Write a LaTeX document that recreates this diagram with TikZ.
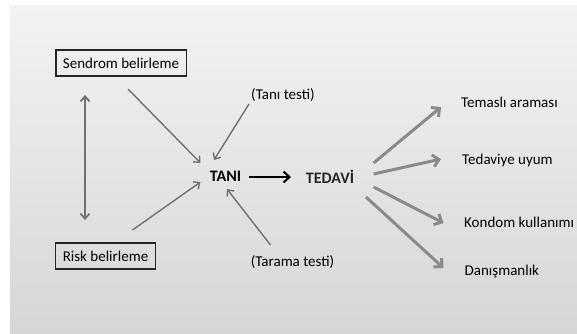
\documentclass[tikz,border=0pt]{standalone}
\usepackage{fontspec}
\setmainfont{Carlito}
\usetikzlibrary{arrows.meta}

\definecolor{bgtop}{HTML}{F3F3F3}
\definecolor{bgbottom}{HTML}{D6D6D6}
\definecolor{arrowgray}{HTML}{707070}
\definecolor{lightarrow}{HTML}{8A8A8A}

\tikzset{
    labelbox/.style={draw=black!85, line width=1.2pt, inner xsep=7pt, minimum height=26pt, font=\fontsize{15}{15}\selectfont},
    plainlabel/.style={font=\fontsize{15}{15}\selectfont, inner sep=0pt},
    mainlabel/.style={font=\fontsize{16}{16}\selectfont\bfseries, inner sep=0pt},
    thinarrow/.style={draw=arrowgray, line width=1.4pt, -{Straight Barb[length=5pt,width=9pt]}},
    thickarrow/.style={draw=lightarrow, line width=3pt, -{Straight Barb[length=6pt,width=12pt]}},
}

\begin{document}
\begin{tikzpicture}[x=1pt, y=-1pt]
        \useasboundingbox (0,0) rectangle (577,333);
        \shade[top color=bgtop, bottom color=bgbottom] (10,5) rectangle (577,333);

        % left side
        \node[labelbox] (sendrom) at (121,63) {Sendrom belirleme};
        \node[labelbox] (risk) at (105.5,256) {Risk belirleme};

        % middle
        \node[mainlabel] (tani) at (225.5,176) {TANI};
        \node[mainlabel, text=black!85] (tedavi) at (330,177) {TEDAVİ};
        \node[plainlabel] (tanitesti) at (283,95) {(Tanı testi)};
        \node[plainlabel] (taramatesti) at (292.5,262) {(Tarama testi)};

        % right side
        \node[plainlabel, anchor=west] (temasli) at (461,102) {Temaslı araması};
        \node[plainlabel, anchor=west] (tedaviye) at (462,160) {Tedaviye uyum};
        \node[plainlabel, anchor=west] (kondom) at (464,222) {Kondom kullanımı};
        \node[plainlabel, anchor=west] (danis) at (464.5,272) {Danışmanlık};

        \draw[thinarrow, line width=1.8pt, {Straight Barb[length=5pt,width=9pt]}-{Straight Barb[length=5pt,width=9pt]}]
            ([shift={(-36,32)}]sendrom.center) -- ([shift={(-20.5,-36)}]risk.center);
        \draw[thinarrow] ([shift={(7,26)}]sendrom.center) -- ([shift={(-25,-13)}]tani.center);
        \draw[thinarrow] ([shift={(27,-26)}]risk.center) -- ([shift={(-25,6)}]tani.center);
        \draw[thinarrow] ([shift={(-34,9)}]tanitesti.center) -- ([shift={(-11.5,-16)}]tani.center);
        \draw[thinarrow] ([shift={(-22,-17)}]taramatesti.center) -- ([shift={(1.5,13)}]tani.center);

        \draw[line width=2pt, -{Straight Barb[length=6pt,width=11pt]}]
            ([shift={(23.5,1)}]tani.center) -- ([shift={(-39,0)}]tedavi.center);

        \draw[thickarrow] ([shift={(43.6,-14)}]tedavi.center) -- ([shift={(-20,5)}]temasli.west);
        \draw[thickarrow] ([shift={(43.6,-3)}]tedavi.center) -- ([shift={(-21,-1)}]tedaviye.west);
        \draw[thickarrow] ([shift={(43.6,10)}]tedavi.center) -- ([shift={(-20.5,1)}]kondom.west);
        \draw[thickarrow] ([shift={(36,20)}]tedavi.center) -- ([shift={(-21,-4)}]danis.west);
    \end{tikzpicture}
\end{document}
